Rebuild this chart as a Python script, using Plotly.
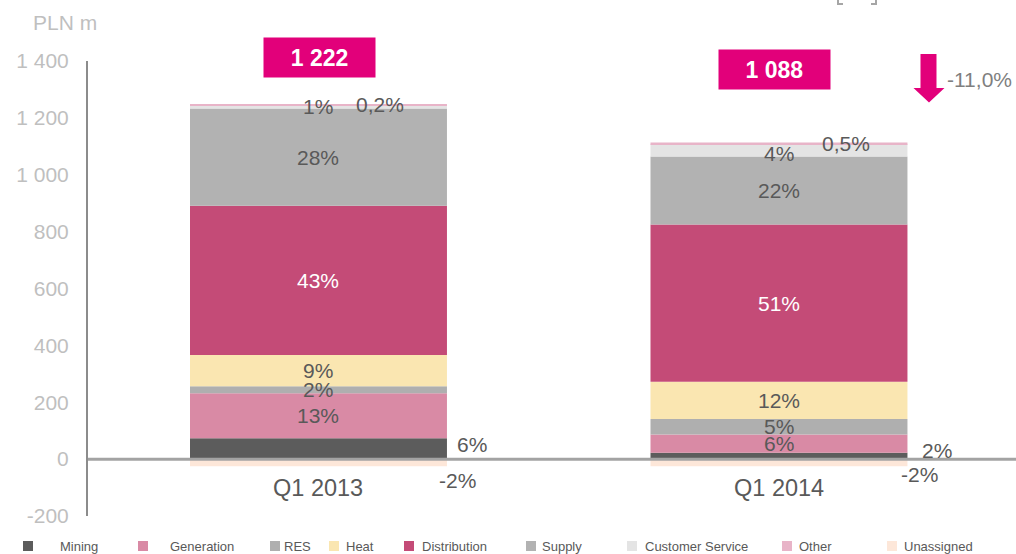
import plotly.graph_objects as go

# ---------------- data ----------------
categories = ["Q1 2013", "Q1 2014"]
series_names = ["Mining", "Generation", "RES", "Heat", "Distribution",
                "Supply", "Customer Service", "Other", "Unassigned"]
mining = [73, 22]
generation = [159, 65]
res = [24, 54]
heat = [110, 131]
distribution = [525, 553]
supply = [342, 239]
customer_service = [12, 44]
other = [2, 5]
unassigned = [-25, -25]

pct_q1_2013 = ["6%", "13%", "2%", "9%", "43%", "28%", "1%", "0,2%", "-2%"]
pct_q1_2014 = ["2%", "6%", "5%", "12%", "51%", "22%", "4%", "0,5%", "-2%"]
change_label = "-11,0%"
y_tickvals = [-200, 0, 200, 400, 600, 800, 1000, 1200, 1400]
y_ticktext = ["-200", "0", "200", "400", "600", "800", "1 000", "1 200", "1 400"]
unit_label = "PLN m"

values = [mining, generation, res, heat, distribution, supply,
          customer_service, other, unassigned]
pcts = [pct_q1_2013, pct_q1_2014]

# ---------------- styles ----------------
colors = ["#5c5c5c", "#d98aa5", "#afafaf", "#fae6b1", "#c44b77",
          "#b2b2b2", "#e4e4e4", "#e8b4c8", "#fde7d9"]
label_colors = ["#595959"] * 4 + ["#ffffff"] + ["#595959"] * 4
FONT = "Arial, Liberation Sans, sans-serif"
LABEL_C = "#595959"
TICK_C = "#bfbfbf"
MAGENTA = "#e2007a"

W, H = 1016, 554
ML, MR, MT, MB = 88, 0, 61, 38
PW, PH = W - ML - MR, H - MT - MB


def px(x):
    return (x - ML) / PW


def py(y):
    return (H - MB - y) / PH


fig = go.Figure()
for name, vals, col in zip(series_names, values, colors):
    fig.add_trace(go.Bar(
        name=name, x=categories, y=vals,
        marker=dict(color=col, line=dict(width=0)),
        showlegend=False, hoverinfo="x+y+name",
    ))

annotations = []
shapes = []

# percentage labels: (xshift, yshift, xanchor) for labels placed off-centre
offsets = {
    (0, "Mining"): (137, 4, "left"),
    (0, "Unassigned"): (119, -18, "left"),
    (0, "Other"): (62, 0, "center"),
    (1, "Mining"): (141, 6, "left"),
    (1, "Unassigned"): (120, -12, "left"),
    (1, "Other"): (67, 0, "center"),
    (1, "Customer Service"): (0, -3, "center"),
}
for j, cat in enumerate(categories):
    pos_cum = 0
    neg_cum = 0
    for i, name in enumerate(series_names):
        v = values[i][j]
        if v >= 0:
            centre = pos_cum + v / 2
            pos_cum += v
        else:
            centre = neg_cum + v / 2
            neg_cum += v
        xs, ys, xa = offsets.get((j, name), (0, 0, "center"))
        annotations.append(dict(
            x=cat, y=centre, xref="x", yref="y", text=pcts[j][i],
            showarrow=False, xshift=xs, yshift=ys, xanchor=xa,
            yanchor="middle",
            font=dict(family=FONT, size=21, color=label_colors[i])))
    # category label below zero
    annotations.append(dict(
        x=cat, y=0, xref="x", yref="y", text=cat, showarrow=False,
        yshift=-29, yanchor="middle",
        font=dict(family=FONT, size=23.5, color=LABEL_C)))

# total boxes
totals = [sum(v[j] for v in values) for j in range(len(categories))]
box_centres = [(319.5, 57.5), (774, 69)]
for j, tot in enumerate(totals):
    cx, cy = box_centres[j]
    annotations.append(dict(
        x=px(cx), y=py(cy), xref="paper", yref="paper",
        text="<b>" + f"{tot:,}".replace(",", " ") + "</b>",
        showarrow=False, xanchor="center", yanchor="middle",
        width=111, height=39, bgcolor=MAGENTA, borderpad=0,
        font=dict(family=FONT, size=23, color="white")))

# change arrow
arrow_pts = [(920.5, 54), (936.5, 54), (936.5, 88), (944.5, 88),
             (929, 102.5), (913.5, 88), (920.5, 88)]
path = "M " + " L ".join(f"{px(x):.5f},{py(y):.5f}" for x, y in arrow_pts) + " Z"
shapes.append(dict(type="path", path=path, xref="paper", yref="paper",
                   fillcolor=MAGENTA, line=dict(width=0)))
annotations.append(dict(
    x=px(945), y=py(80), xref="paper", yref="paper", text=change_label,
    showarrow=False, xanchor="left", yanchor="middle",
    font=dict(family=FONT, size=21, color="#7f7f7f")))

# unit label
annotations.append(dict(
    x=px(31), y=py(22), xref="paper", yref="paper", text=unit_label,
    showarrow=False, xanchor="left", yanchor="middle",
    font=dict(family=FONT, size=21, color=TICK_C)))

# cropped bracket at top
for bx, d in [(838, 1), (876, -1)]:
    p = f"M {px(bx + 5*d):.5f},{py(4):.5f} L {px(bx):.5f},{py(4):.5f} L {px(bx):.5f},{py(-2):.5f}"
    shapes.append(dict(type="path", path=p, xref="paper", yref="paper",
                       line=dict(color="#a6a6a6", width=2)))

# zero line over the bars
shapes.append(dict(type="line", xref="paper", yref="y", x0=0, x1=1, y0=0, y1=0,
                   line=dict(color="#a3a3a3", width=3), layer="above"))

# manual legend
legend_marker_x = [23, 138, 270, 329, 404, 526, 627, 782, 887]
legend_text_x = [58, 168, 282, 344, 420, 540, 643, 797, 902]
for name, col, mx, tx in zip(series_names, colors, legend_marker_x, legend_text_x):
    shapes.append(dict(type="rect", xref="paper", yref="paper",
                       x0=px(mx), x1=px(mx + 10), y0=py(551), y1=py(541),
                       fillcolor=col, line=dict(width=0)))
    annotations.append(dict(
        x=px(tx), y=py(546.5), xref="paper", yref="paper", text=name,
        showarrow=False, xanchor="left", yanchor="middle",
        font=dict(family=FONT, size=13, color=LABEL_C)))

fig.update_layout(
    width=W, height=H,
    margin=dict(l=ML, r=MR, t=MT, b=MB, autoexpand=False),
    barmode="relative", bargap=0.442,
    paper_bgcolor="white", plot_bgcolor="white",
    font=dict(family=FONT),
    annotations=annotations, shapes=shapes,
    showlegend=False,
    xaxis=dict(range=[-0.5005, 1.5147], showticklabels=False, showgrid=False,
               zeroline=False, showline=False, fixedrange=True),
    yaxis=dict(range=[-200, 1400], tickvals=y_tickvals, ticktext=y_ticktext,
               showgrid=False, zeroline=False, showline=True,
               linecolor="#8c8c8c", linewidth=2, ticks="",
               ticklabelstandoff=13,
               tickfont=dict(family=FONT, size=21, color=TICK_C)),
)

fig.write_html("out.html", config={"displayModeBar": False})

# remove the browser's default page margin so the figure sits at (0, 0)
with open("out.html", "r", encoding="utf-8") as f:
    html = f.read()
html = html.replace("<head>", "<head><style>html,body{margin:0;padding:0;overflow:hidden;}</style>", 1)
with open("out.html", "w", encoding="utf-8") as f:
    f.write(html)
